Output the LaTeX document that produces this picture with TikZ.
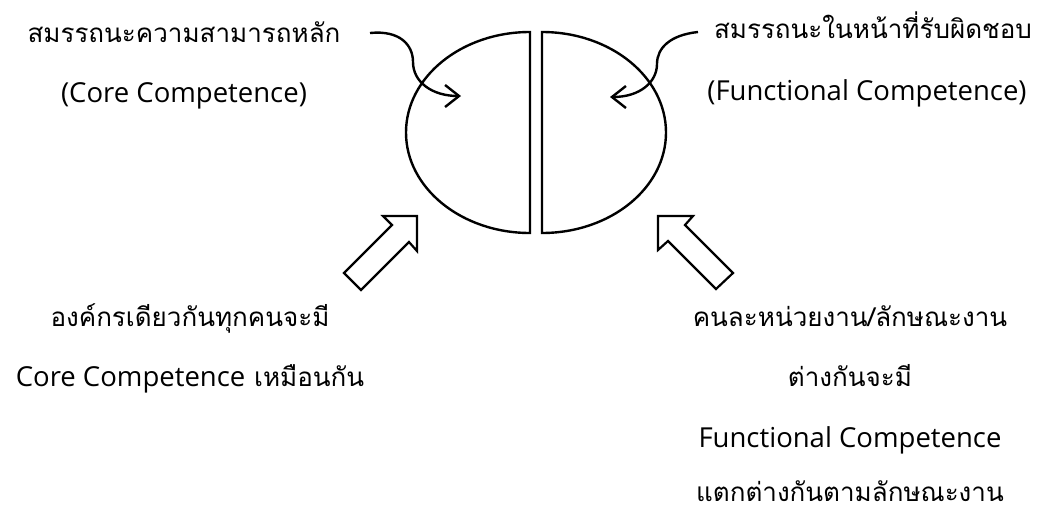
\documentclass[tikz,border=0pt]{standalone}
\usepackage{fontspec}
\setmainfont[Script=Thai]{Loma}
\newfontfamily\lat{Open Sans}
\newcommand{\latin}[1]{{\lat\fontsize{27.5}{32}\selectfont #1}}
\usetikzlibrary{arrows.meta}
\begin{document}
\begin{tikzpicture}[x=1pt,y=-1pt,
  lbl/.style={anchor=base,inner sep=0pt,font=\fontsize{26}{30}\selectfont},
  shape line/.style={line width=2.4pt,line join=miter},
  pointer/.style={line width=2.4pt,-{Straight Barb[length=14pt,width=22pt,line width=2.4pt]}},
  blockarrow/.style={line width=2.2pt,line join=miter,fill=white}]
\useasboundingbox (0,0) rectangle (1042,512);
% texts
\node[lbl] (tl1) at (184,42) {สมรรถนะความสามารถหลัก};
\node[lbl] (tl2) at (184,102) {\latin{(Core Competence)}};
\node[lbl] (tr1) at (873,38) {สมรรถนะในหน้าที่รับผิดชอบ};
\node[lbl] (tr2) at (867,100) {\latin{(Functional Competence)}};
\node[lbl] (bl1) at (190,326) {องค์กรเดียวกันทุกคนจะมี};
\node[lbl] (bl2) at (190,386) {\latin{Core Competence} เหมือนกัน};
\node[lbl] (br1) at (850,326) {คนละหน่วยงาน/ลักษณะงาน};
\node[lbl] (br2) at (850,386) {ต่างกันจะมี};
\node[lbl] (br3) at (850,447) {\latin{Functional Competence}};
\node[lbl] (br4) at (850,501) {แตกต่างกันตามลักษณะงาน};
% halves of the ellipse
\draw[shape line] (530,32) arc[start angle=270,end angle=90,x radius=124,y radius=100.5] -- cycle;
\draw[shape line] (542,32) arc[start angle=-90,end angle=90,x radius=124,y radius=100.5] -- cycle;
% curved pointers
\coordinate (ls) at (370,33);
\coordinate (lt) at (461,96);
\coordinate (rs) at (698,32);
\coordinate (rt) at (610,97);
\draw[pointer] (ls) .. controls (400,30) and (413,45) .. (413,62) .. controls (413,82) and (432,96) .. (lt);
\draw[pointer] (rs) .. controls (670,35) and (657,48) .. (657,64) .. controls (657,82) and (640,97) .. (rt);
% block arrows
\draw[blockarrow] (417,216) -- (417,251) -- (409,242) -- (361,290) -- (344,273) -- (392,225) -- (383,216) -- cycle;
\draw[blockarrow] (658,216) -- (658,250) -- (668,241) -- (716,289) -- (733,273) -- (685,225) -- (693,216) -- cycle;
\end{tikzpicture}
\end{document}
